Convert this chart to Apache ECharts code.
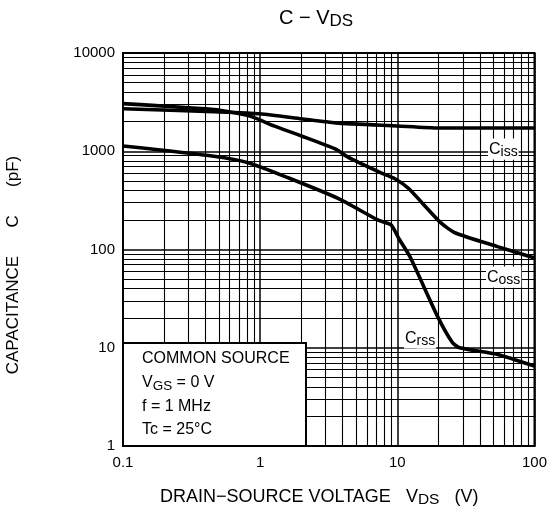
<!DOCTYPE html>
<html><head><meta charset="utf-8">
<script src="https://cdn.jsdelivr.net/npm/echarts@6/dist/echarts.min.js"></script>
<style>html,body{margin:0;padding:0;background:#fff}#c{width:550px;height:515px}</style>
</head><body><div id="c"></div>
<script>
// Tick labels
const xTicks = [0.1, 1, 10, 100];
const yTicks = [1, 10, 100, 1000, 10000];
const minorMult = [2, 3, 4, 5, 6, 7, 8, 9];

// Series values (VDS in V, capacitance in pF)
const vdsCiss = [0.1, 0.46, 1.0, 2.0, 3.55, 10, 20, 100];
const ciss    = [2710, 2520, 2405, 2140, 1945, 1810, 1725, 1725];

const vdsCoss = [0.1, 0.46, 0.83, 1.26, 2.0, 3.55, 4.36, 7.6, 9.6, 12.1, 20.5, 26.3, 53.8, 100];
const coss    = [3055, 2650, 2295, 1810, 1430, 1050, 871, 603, 525, 417, 190, 148, 107, 82];

const vdsCrss = [0.1, 0.46, 0.83, 1.6, 3.7, 7.2, 9.0, 10.3, 12.5, 19.6, 25.2, 28.4, 53.8, 100];
const crss    = [1130, 890, 760, 537, 331, 200, 178, 128, 82, 21, 11.3, 10, 8.55, 6.5];

const FF = 'Liberation Sans, Arial, Helvetica, sans-serif';

const minorX = [];
xTicks.slice(0, -1).forEach(d => minorMult.forEach(m => minorX.push({ xAxis: d * m })));
const minorY = [];
yTicks.slice(0, -1).forEach(d => minorMult.forEach(m => minorY.push({ yAxis: d * m })));

const zip = (a, b) => a.map((v, i) => [v, b[i]]);
const curve = (name, xs, ys) => ({
  name, type: 'line', data: zip(xs, ys), showSymbol: false, symbol: 'none',
  smooth: 0.2, z: 5,
  lineStyle: { color: '#000', width: 3.6 }
});

const fmt = v => (v < 1 ? v.toFixed(1) : String(Math.round(v)));
const subRich = (big, small, bg) => ({
  a: { fontFamily: FF, fontSize: big, lineHeight: big + 4, fill: '#000', backgroundColor: bg || 'transparent' },
  b: { fontFamily: FF, fontSize: small, lineHeight: small + 1, verticalAlign: 'bottom', fill: '#000', backgroundColor: bg || 'transparent' }
});

const chart = echarts.init(document.getElementById('c'), null, { renderer: 'canvas' });
chart.setOption({
  animation: false,
  backgroundColor: '#fff',
  grid: { left: 123, right: 12, top: 53, bottom: 69, show: true, borderColor: '#000', borderWidth: 2, backgroundColor: 'transparent' },
  xAxis: {
    type: 'log', logBase: 10, min: 0.1, max: 100,
    axisLine: { show: true, onZero: false, lineStyle: { color: '#000', width: 2 } },
    axisTick: { show: false },
    axisLabel: { color: '#000', fontFamily: FF, fontSize: 15, margin: 9, formatter: fmt, showMinLabel: true, showMaxLabel: true },
    splitLine: { show: true, lineStyle: { color: '#000', width: 1.5 } }
  },
  yAxis: {
    type: 'log', logBase: 10, min: 1, max: 10000,
    axisLine: { show: true, onZero: false, lineStyle: { color: '#000', width: 2 } },
    axisTick: { show: false },
    axisLabel: { color: '#000', fontFamily: FF, fontSize: 15, margin: 8, formatter: fmt },
    splitLine: { show: true, lineStyle: { color: '#000', width: 1.5 } }
  },
  series: [
    {
      name: 'grid', type: 'line', data: [[0.1, 1]], symbol: 'none', showSymbol: false,
      lineStyle: { width: 0 }, z: 1, silent: true,
      markLine: {
        silent: true, symbol: ['none', 'none'], animation: false,
        label: { show: false },
        lineStyle: { color: '#000', width: 1.1, type: 'solid' },
        emphasis: { disabled: true },
        data: minorX.concat(minorY)
      }
    },
    curve('Ciss', vdsCiss, ciss),
    curve('Coss', vdsCoss, coss),
    curve('Crss', vdsCrss, crss)
  ],
  graphic: [
    { type: 'text', x: 316, y: 18, z: 100,
      style: { text: '{a|C − V}{b|DS}', textAlign: 'center', textVerticalAlign: 'middle', rich: subRich(20, 17) } },
    { type: 'rect', z: 100, shape: { x: 123, y: 343, width: 183, height: 103 },
      style: { fill: '#fff', stroke: '#000', lineWidth: 2 } },
    { type: 'text', x: 142, y: 359, z: 101,
      style: { text: 'COMMON SOURCE', font: '16px ' + FF, fill: '#000', textVerticalAlign: 'middle' } },
    { type: 'text', x: 142, y: 383, z: 101,
      style: { text: '{a|V}{b|GS}{a| = 0 V}', textVerticalAlign: 'middle', rich: subRich(16, 13.5) } },
    { type: 'text', x: 142, y: 407, z: 101,
      style: { text: 'f = 1 MHz', font: '16px ' + FF, fill: '#000', textVerticalAlign: 'middle' } },
    { type: 'text', x: 142, y: 430, z: 101,
      style: { text: 'Tc = 25°C', font: '16px ' + FF, fill: '#000', textVerticalAlign: 'middle' } },
    { type: 'text', x: 488, y: 149, z: 101,
      style: { text: '{a|C}{b|iss}', textVerticalAlign: 'middle', backgroundColor: '#fff', padding: [1, 1, 0, 1], rich: subRich(16, 14, '#fff') } },
    { type: 'text', x: 486, y: 277, z: 101,
      style: { text: '{a|C}{b|oss}', textVerticalAlign: 'middle', backgroundColor: '#fff', padding: [1, 1, 0, 1], rich: subRich(16, 14, '#fff') } },
    { type: 'text', x: 404, y: 338, z: 101,
      style: { text: '{a|C}{b|rss}', textVerticalAlign: 'middle', backgroundColor: '#fff', padding: [1, 1, 0, 1], rich: subRich(16, 14, '#fff') } },
    { type: 'text', x: 160, y: 497, z: 100,
      style: { text: '{a|DRAIN−SOURCE VOLTAGE   V}{b|DS}{a|   (V)}', textAlign: 'left', textVerticalAlign: 'middle',
        rich: { a: { fontFamily: FF, fontSize: 18, lineHeight: 22, fill: '#000' },
                b: { fontFamily: FF, fontSize: 15.5, lineHeight: 16, verticalAlign: 'bottom', fill: '#000' } } } },
    { type: 'text', x: 13, y: 265, z: 100, rotation: Math.PI / 2,
      style: { text: 'CAPACITANCE      C      (pF)', font: '17px ' + FF, fill: '#000', textAlign: 'center', textVerticalAlign: 'middle' } }
  ]
});
</script>
</body></html>
